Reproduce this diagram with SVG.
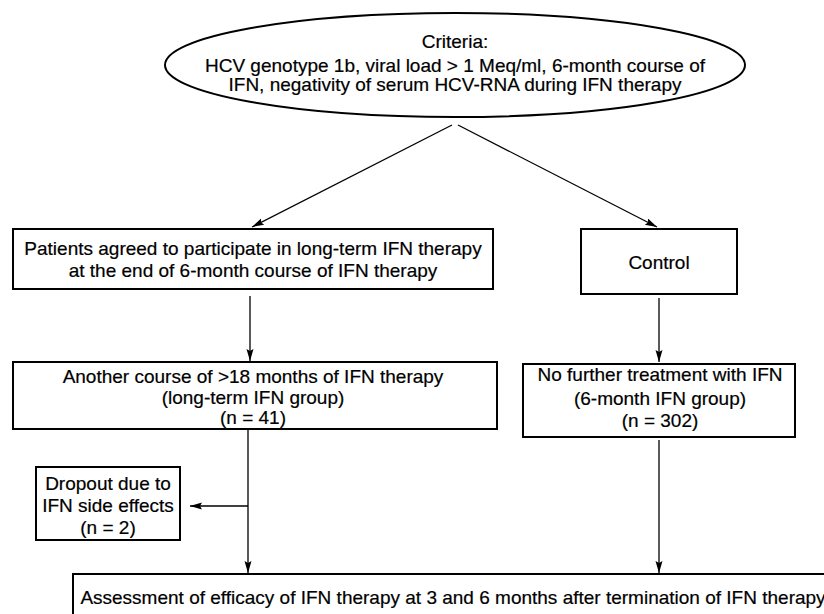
<svg xmlns="http://www.w3.org/2000/svg" width="824" height="614" viewBox="0 0 824 614">
<defs>
<marker id="ah" markerUnits="userSpaceOnUse" markerWidth="13" markerHeight="8" refX="12" refY="3.5" orient="auto">
<path d="M0,0 L12,3.5 L0,7 L2,3.5 z" fill="#000"/>
</marker>
<style>
.box{fill:#fff;stroke:#000;stroke-width:2}
.t{font-family:"Liberation Sans",Arial,sans-serif;font-size:19px;fill:#000;stroke:#000;stroke-width:0.2;text-anchor:middle}
.c{stroke:#000;stroke-width:1.3;fill:none;marker-end:url(#ah)}
</style>
</defs>
<rect width="824" height="614" fill="#fff"/>
<g id="connectors">
<line class="c" x1="452" y1="125" x2="252" y2="227"/>
<line class="c" x1="458" y1="125" x2="657" y2="227"/>
<line class="c" x1="250" y1="296" x2="250" y2="361"/>
<line class="c" x1="659" y1="298" x2="659" y2="362"/>
<line class="c" x1="248" y1="429" x2="248" y2="573"/>
<line class="c" x1="248" y1="506" x2="190" y2="506"/>
<line class="c" x1="659" y1="440" x2="659" y2="573"/>
</g>
<g id="criteria">
<ellipse class="box" cx="455" cy="65" rx="290" ry="52"/>
<text class="t" x="455" y="48">Criteria:</text>
<text class="t" x="455" y="72">HCV genotype 1b, viral load &gt; 1 Meq/ml, 6-month course of</text>
<text class="t" x="455" y="91">IFN, negativity of serum HCV-RNA during IFN therapy</text>
</g>
<g id="patients">
<rect class="box" x="13" y="229" width="480" height="60"/>
<text class="t" x="253" y="255">Patients agreed to participate in long-term IFN therapy</text>
<text class="t" x="253" y="277">at the end of 6-month course of IFN therapy</text>
</g>
<g id="control">
<rect class="box" x="581" y="229" width="156" height="65"/>
<text class="t" x="659" y="269">Control</text>
</g>
<g id="longterm">
<rect class="box" x="13" y="362" width="484" height="67"/>
<text class="t" x="253" y="383">Another course of &gt;18 months of IFN therapy</text>
<text class="t" x="253" y="404">(long-term IFN group)</text>
<text class="t" x="253" y="424">(n = 41)</text>
</g>
<g id="sixmonth">
<rect class="box" x="523" y="364" width="272" height="73"/>
<text class="t" x="660" y="381">No further treatment with IFN</text>
<text class="t" x="660" y="405">(6-month IFN group)</text>
<text class="t" x="660" y="427">(n = 302)</text>
</g>
<g id="dropout">
<rect class="box" x="36" y="467" width="144" height="73"/>
<text class="t" x="108" y="490">Dropout due to</text>
<text class="t" x="108" y="512">IFN side effects</text>
<text class="t" x="108" y="534">(n = 2)</text>
</g>
<g id="assessment">
<rect class="box" x="73" y="574" width="780" height="70"/>
<text class="t" x="453" y="604">Assessment of efficacy of IFN therapy at 3 and 6 months after termination of IFN therapy</text>
</g>
</svg>
